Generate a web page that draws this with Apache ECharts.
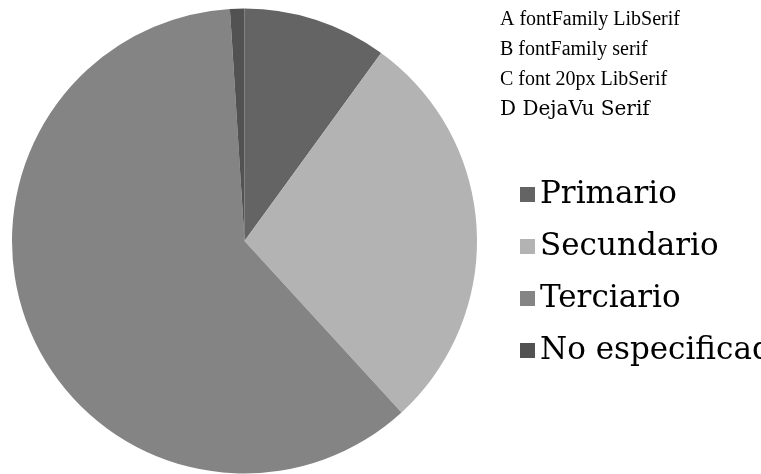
<!DOCTYPE html>
<html>
<head>
<meta charset="utf-8">
<script src="https://cdn.jsdelivr.net/npm/echarts@6/dist/echarts.min.js"></script>
<style>
  html, body { margin: 0; padding: 0; background: #fff; }
  #chart { width: 761px; height: 474px; }
</style>
</head>
<body>
<div id="chart"></div>
<script>
const categories = ['Primario', 'Secundario', 'Terciario', 'No especificado'];
const values = [10.0, 28.2, 60.8, 1.0];
const colors = ['#646464', '#b3b3b3', '#848484', '#525252'];

const chart = echarts.init(document.getElementById('chart'), null, { renderer: 'canvas' });

chart.setOption({
  animation: false,
  color: colors,
  graphic: [
    { type: 'text', left: 500, top: 10, style: { text: 'A fontFamily LibSerif', fontFamily: 'Liberation Serif', fontSize: 20, fill: '#000' } },
    { type: 'text', left: 500, top: 40, style: { text: 'B fontFamily serif', fontFamily: 'serif', fontSize: 20, fill: '#000' } },
    { type: 'text', left: 500, top: 70, style: { text: 'C font 20px LibSerif', font: '20px Liberation Serif', fill: '#000' } },
    { type: 'text', left: 500, top: 100, style: { text: 'D DejaVu Serif', fontFamily: 'DejaVu Serif', fontSize: 20, fill: '#000' } }
  ],
  legend: {
    orient: 'vertical',
    left: 515,
    top: 174,
    itemWidth: 15,
    itemHeight: 15,
    itemGap: 21,
    icon: 'rect',
    textStyle: {
      fontFamily: 'DejaVu Serif',
      fontSize: 31,
      lineHeight: 31,
      color: '#000'
    },
    data: categories
  },
  series: [{
    type: 'pie',
    center: [244.5, 241],
    radius: 232.5,
    startAngle: 90,
    label: { show: false },
    data: categories.map((name, i) => ({ name, value: values[i] }))
  }]
});
</script>
</body>
</html>
